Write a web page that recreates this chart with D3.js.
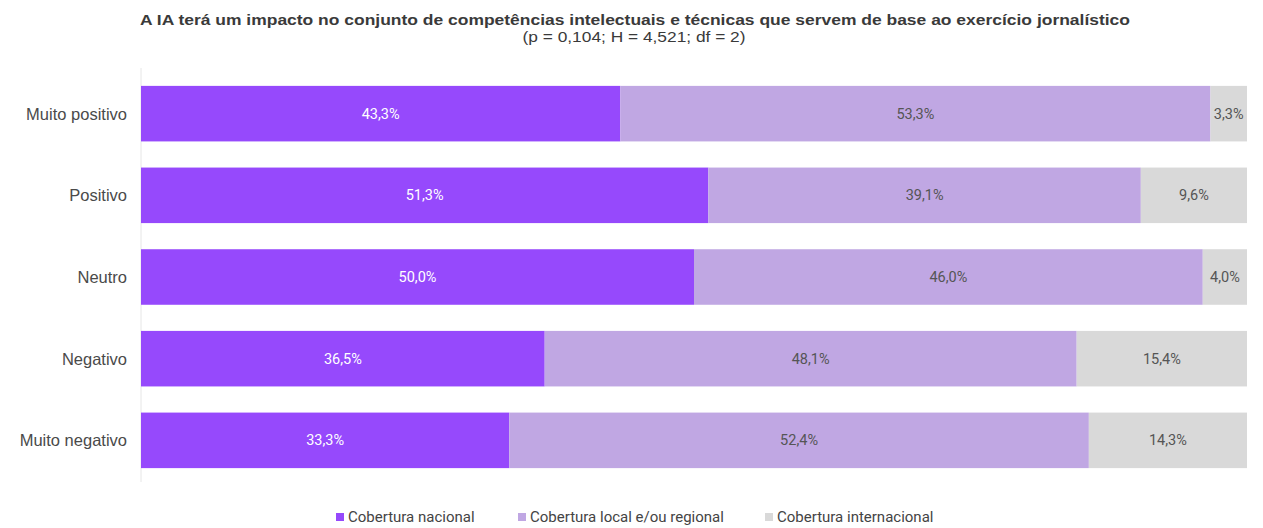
<!DOCTYPE html>
<html><head><meta charset="utf-8">
<script src="https://cdn.jsdelivr.net/npm/d3@7"></script>
<style>body{margin:0;background:#fff}svg{display:block}</style>
</head><body><svg id="c" width="1263" height="528"></svg>
<script>
const categories = ["Muito positivo","Positivo","Neutro","Negativo","Muito negativo"];
const seriesNames = ["Cobertura nacional","Cobertura local e/ou regional","Cobertura internacional"];
const nacional = [43.3, 51.3, 50.0, 36.5, 33.3];
const localRegional = [53.3, 39.1, 46.0, 48.1, 52.4];
const internacional = [3.3, 9.6, 4.0, 15.4, 14.3];
const colors = ["#9649FC", "#C0A7E3", "#D9D9D9"];
const labelColors = ["#ffffff", "#555555", "#555555"];

const svg = d3.select("#c");
const x = d3.scaleLinear().domain([0, 100]).range([141, 1247]);
const y = d3.scaleBand().domain(categories).range([72, 482]).paddingInner(0.32).paddingOuter(0.17);

svg.append("text").attr("x", 635).attr("y", 25).attr("text-anchor", "middle")
  .attr("font-family", "Liberation Sans, Arial, sans-serif").attr("font-weight", "bold")
  .attr("font-size", 15.5).attr("fill", "#3a3a3a")
  .attr("textLength", 990).attr("lengthAdjust", "spacingAndGlyphs")
  .text("A IA terá um impacto no conjunto de competências intelectuais e técnicas que servem de base ao exercício jornalístico");
svg.append("text").attr("x", 634).attr("y", 42).attr("text-anchor", "middle")
  .attr("font-family", "Liberation Sans, Arial, sans-serif")
  .attr("font-size", 15).attr("fill", "#3a3a3a")
  .attr("textLength", 223).attr("lengthAdjust", "spacingAndGlyphs")
  .text("(p = 0,104; H = 4,521; df = 2)");

svg.append("line").attr("x1", 141).attr("x2", 141).attr("y1", 68).attr("y2", 482)
  .attr("stroke", "#e6e6e6").attr("stroke-width", 1);

const series = [nacional, localRegional, internacional];
categories.forEach((cat, i) => {
  const vals = series.map(s => s[i]);
  const total = d3.sum(vals);
  let acc = 0;
  vals.forEach((v, j) => {
    const x0 = x(acc / total * 100);
    acc += v;
    const x1 = x(acc / total * 100);
    svg.append("rect").attr("x", x0).attr("y", y(cat)).attr("width", x1 - x0)
      .attr("height", y.bandwidth()).attr("fill", colors[j]);
    svg.append("text").attr("x", (x0 + x1) / 2).attr("y", y(cat) + y.bandwidth() / 2 + 5)
      .attr("text-anchor", "middle").attr("font-family", "Roboto, Inter, sans-serif")
      .attr("font-size", 14.5).attr("fill", labelColors[j])
      .text(v.toFixed(1).replace(".", ",") + "%");
  });
  svg.append("text").attr("x", 127).attr("y", y(cat) + y.bandwidth() / 2 + 6)
    .attr("text-anchor", "end").attr("font-family", "Liberation Sans, Arial, sans-serif")
    .attr("font-size", 16.5).attr("fill", "#4a4a4a").text(cat);
});

const legendX = [336, 518, 765];
seriesNames.forEach((n, j) => {
  svg.append("rect").attr("x", legendX[j]).attr("y", 513).attr("width", 8).attr("height", 8).attr("fill", colors[j]);
  svg.append("text").attr("x", legendX[j] + 12).attr("y", 522).attr("font-family", "Roboto, Inter, sans-serif")
    .attr("font-size", 15).attr("fill", "#444").text(n);
});
</script></body></html>
